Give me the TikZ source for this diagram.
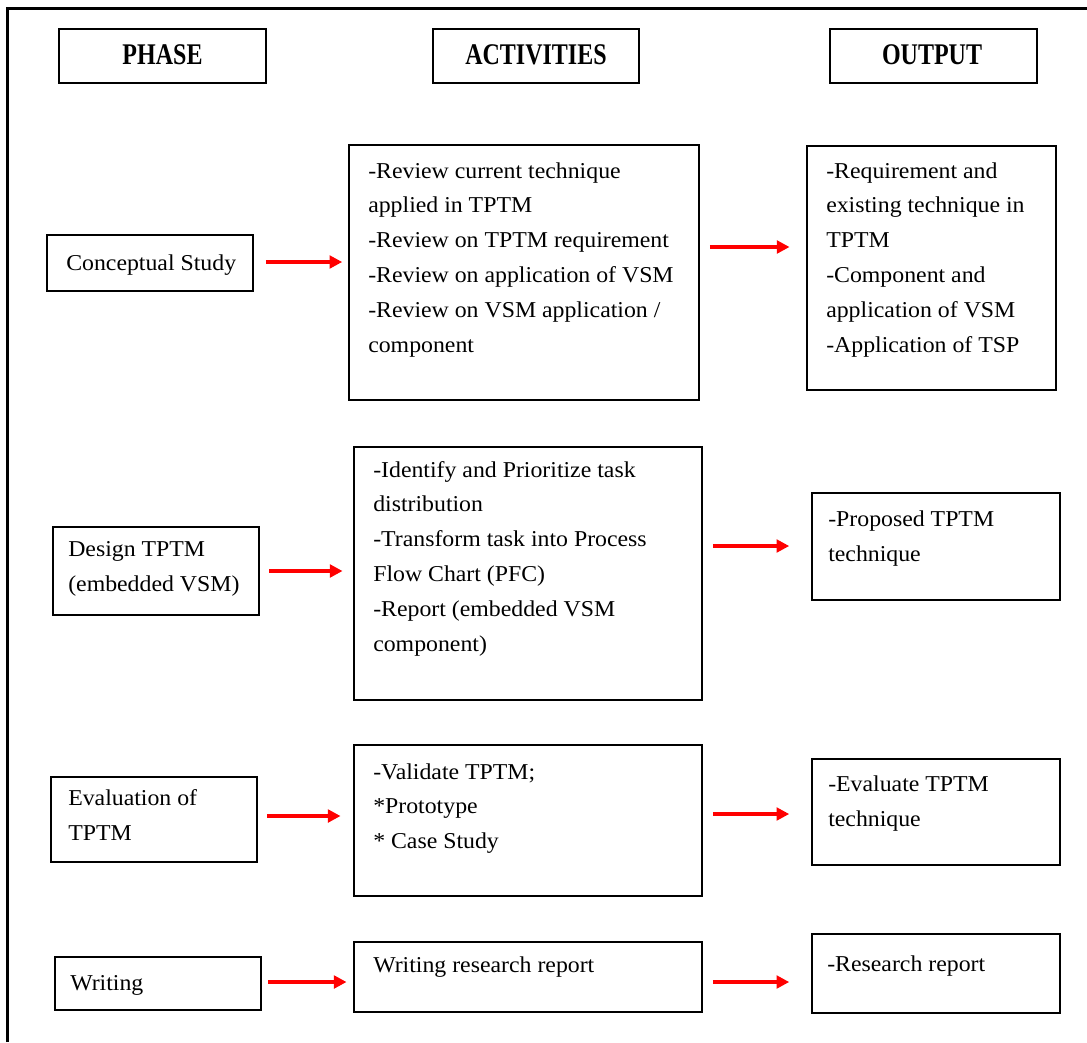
\documentclass[tikz,border=0pt]{standalone}
\usepackage{fontspec}
\usetikzlibrary{arrows.meta,fit,calc}
\newfontfamily\bodyfont{Liberation Serif}[FakeStretch=1.05]
\newfontfamily\headfont{Liberation Serif}[FakeStretch=0.8]
\tikzset{
  bx/.style={draw=black, line width=1.2pt, inner sep=0pt, rectangle},
  % multi-line text is placed by the baseline of its last line
  body/.style={font=\bodyfont\fontsize{17}{26.1}\selectfont, align=left, inner sep=0pt, anchor=base west},
  head/.style={font=\headfont\bfseries\fontsize{22.5}{26}\selectfont, inner sep=0pt, anchor=base},
  arr/.style={draw=red, line width=3pt, -{Triangle[length=9.5pt,width=9.5pt]}},
}
\begin{document}
\begin{tikzpicture}[x=0.75pt,y=-0.75pt]
\useasboundingbox (0,0) rectangle (1087,1042);
% outer frame (top and left edges)
\draw[line width=2.3pt] (7.5,1042) -- (7.5,8.5) -- (1087,8.5);

% column headers
\node[bx, fit={(59,29) (266,83)}] (hP) {};
\node[bx, fit={(433,29) (639,83)}] (hA) {};
\node[bx, fit={(830,29) (1037,83)}] (hO) {};
\node[head] (hPt) at (162.5,64) {PHASE};
\node[head] (hAt) at (536,64) {ACTIVITIES};
\node[head] (hOt) at (932,64) {OUTPUT};

% row 1
\node[bx, fit={(47,235) (253,291)}] (p1) {};
\node[bx, fit={(349,145) (699,400)}] (a1) {};
\node[bx, fit={(807,146) (1056,390)}] (o1) {};
\node[body] (p1t) at (66,270) {Conceptual Study};
\node[body] (a1t) at (368,352) {-Review current technique\\applied in TPTM\\-Review on TPTM requirement\\-Review on application of VSM\\-Review on VSM application /\\component};
\node[body] (o1t) at (826,352) {-Requirement and\\existing technique in\\TPTM\\-Component and\\application of VSM\\-Application of TSP};

% row 2
\node[bx, fit={(53,527) (259,615)}] (p2) {};
\node[bx, fit={(354,447) (702,700)}] (a2) {};
\node[bx, fit={(812,493) (1060,600)}] (o2) {};
\node[body] (p2t) at (68,591) {Design TPTM\\(embedded VSM)};
\node[body] (a2t) at (373,651) {-Identify and Prioritize task\\distribution\\-Transform task into Process\\Flow Chart (PFC)\\-Report (embedded VSM\\component)};
\node[body] (o2t) at (828,561) {-Proposed TPTM\\technique};

% row 3
\node[bx, fit={(51,777) (257,862)}] (p3) {};
\node[bx, fit={(354,745) (702,896)}] (a3) {};
\node[bx, fit={(812,759) (1060,865)}] (o3) {};
\node[body] (p3t) at (68,840) {Evaluation of\\TPTM};
\node[body] (a3t) at (373,848.6) {-Validate TPTM;\\*Prototype\\* Case Study};
\node[body] (o3t) at (828,826) {-Evaluate TPTM\\technique};

% row 4
\node[bx, fit={(55,957) (261,1010)}] (p4) {};
\node[bx, fit={(354,942) (702,1012)}] (a4) {};
\node[bx, fit={(812,934) (1060,1013)}] (o4) {};
\node[body] (p4t) at (70,990) {Writing};
\node[body] (a4t) at (373,972) {Writing research report};
\node[body] (o4t) at (827,971) {-Research report};

% arrow levels
\coordinate (y1a) at (0,262);
\coordinate (y1b) at (0,247);
\coordinate (y2a) at (0,571);
\coordinate (y2b) at (0,546);
\coordinate (y3a) at (0,816);
\coordinate (y3b) at (0,814);
\coordinate (y4a) at (0,982);
\coordinate (y4b) at (0,982);

% connectors
\draw[arr, shorten <=9pt, shorten >=4.5pt] (p1.east |- y1a) -- (a1.west |- y1a);
\draw[arr, shorten <=7.5pt, shorten >=12.5pt] (a1.east |- y1b) -- (o1.west |- y1b);
\draw[arr, shorten <=7pt, shorten >=8pt] (p2.east |- y2a) -- (a2.west |- y2a);
\draw[arr, shorten <=7.5pt, shorten >=16.5pt] (a2.east |- y2b) -- (o2.west |- y2b);
\draw[arr, shorten <=7pt, shorten >=9.5pt] (p3.east |- y3a) -- (a3.west |- y3a);
\draw[arr, shorten <=7.5pt, shorten >=16.5pt] (a3.east |- y3b) -- (o3.west |- y3b);
\draw[arr, shorten <=4.5pt, shorten >=5pt] (p4.east |- y4a) -- (a4.west |- y4a);
\draw[arr, shorten <=7.5pt, shorten >=16.5pt] (a4.east |- y4b) -- (o4.west |- y4b);
\end{tikzpicture}
\end{document}
